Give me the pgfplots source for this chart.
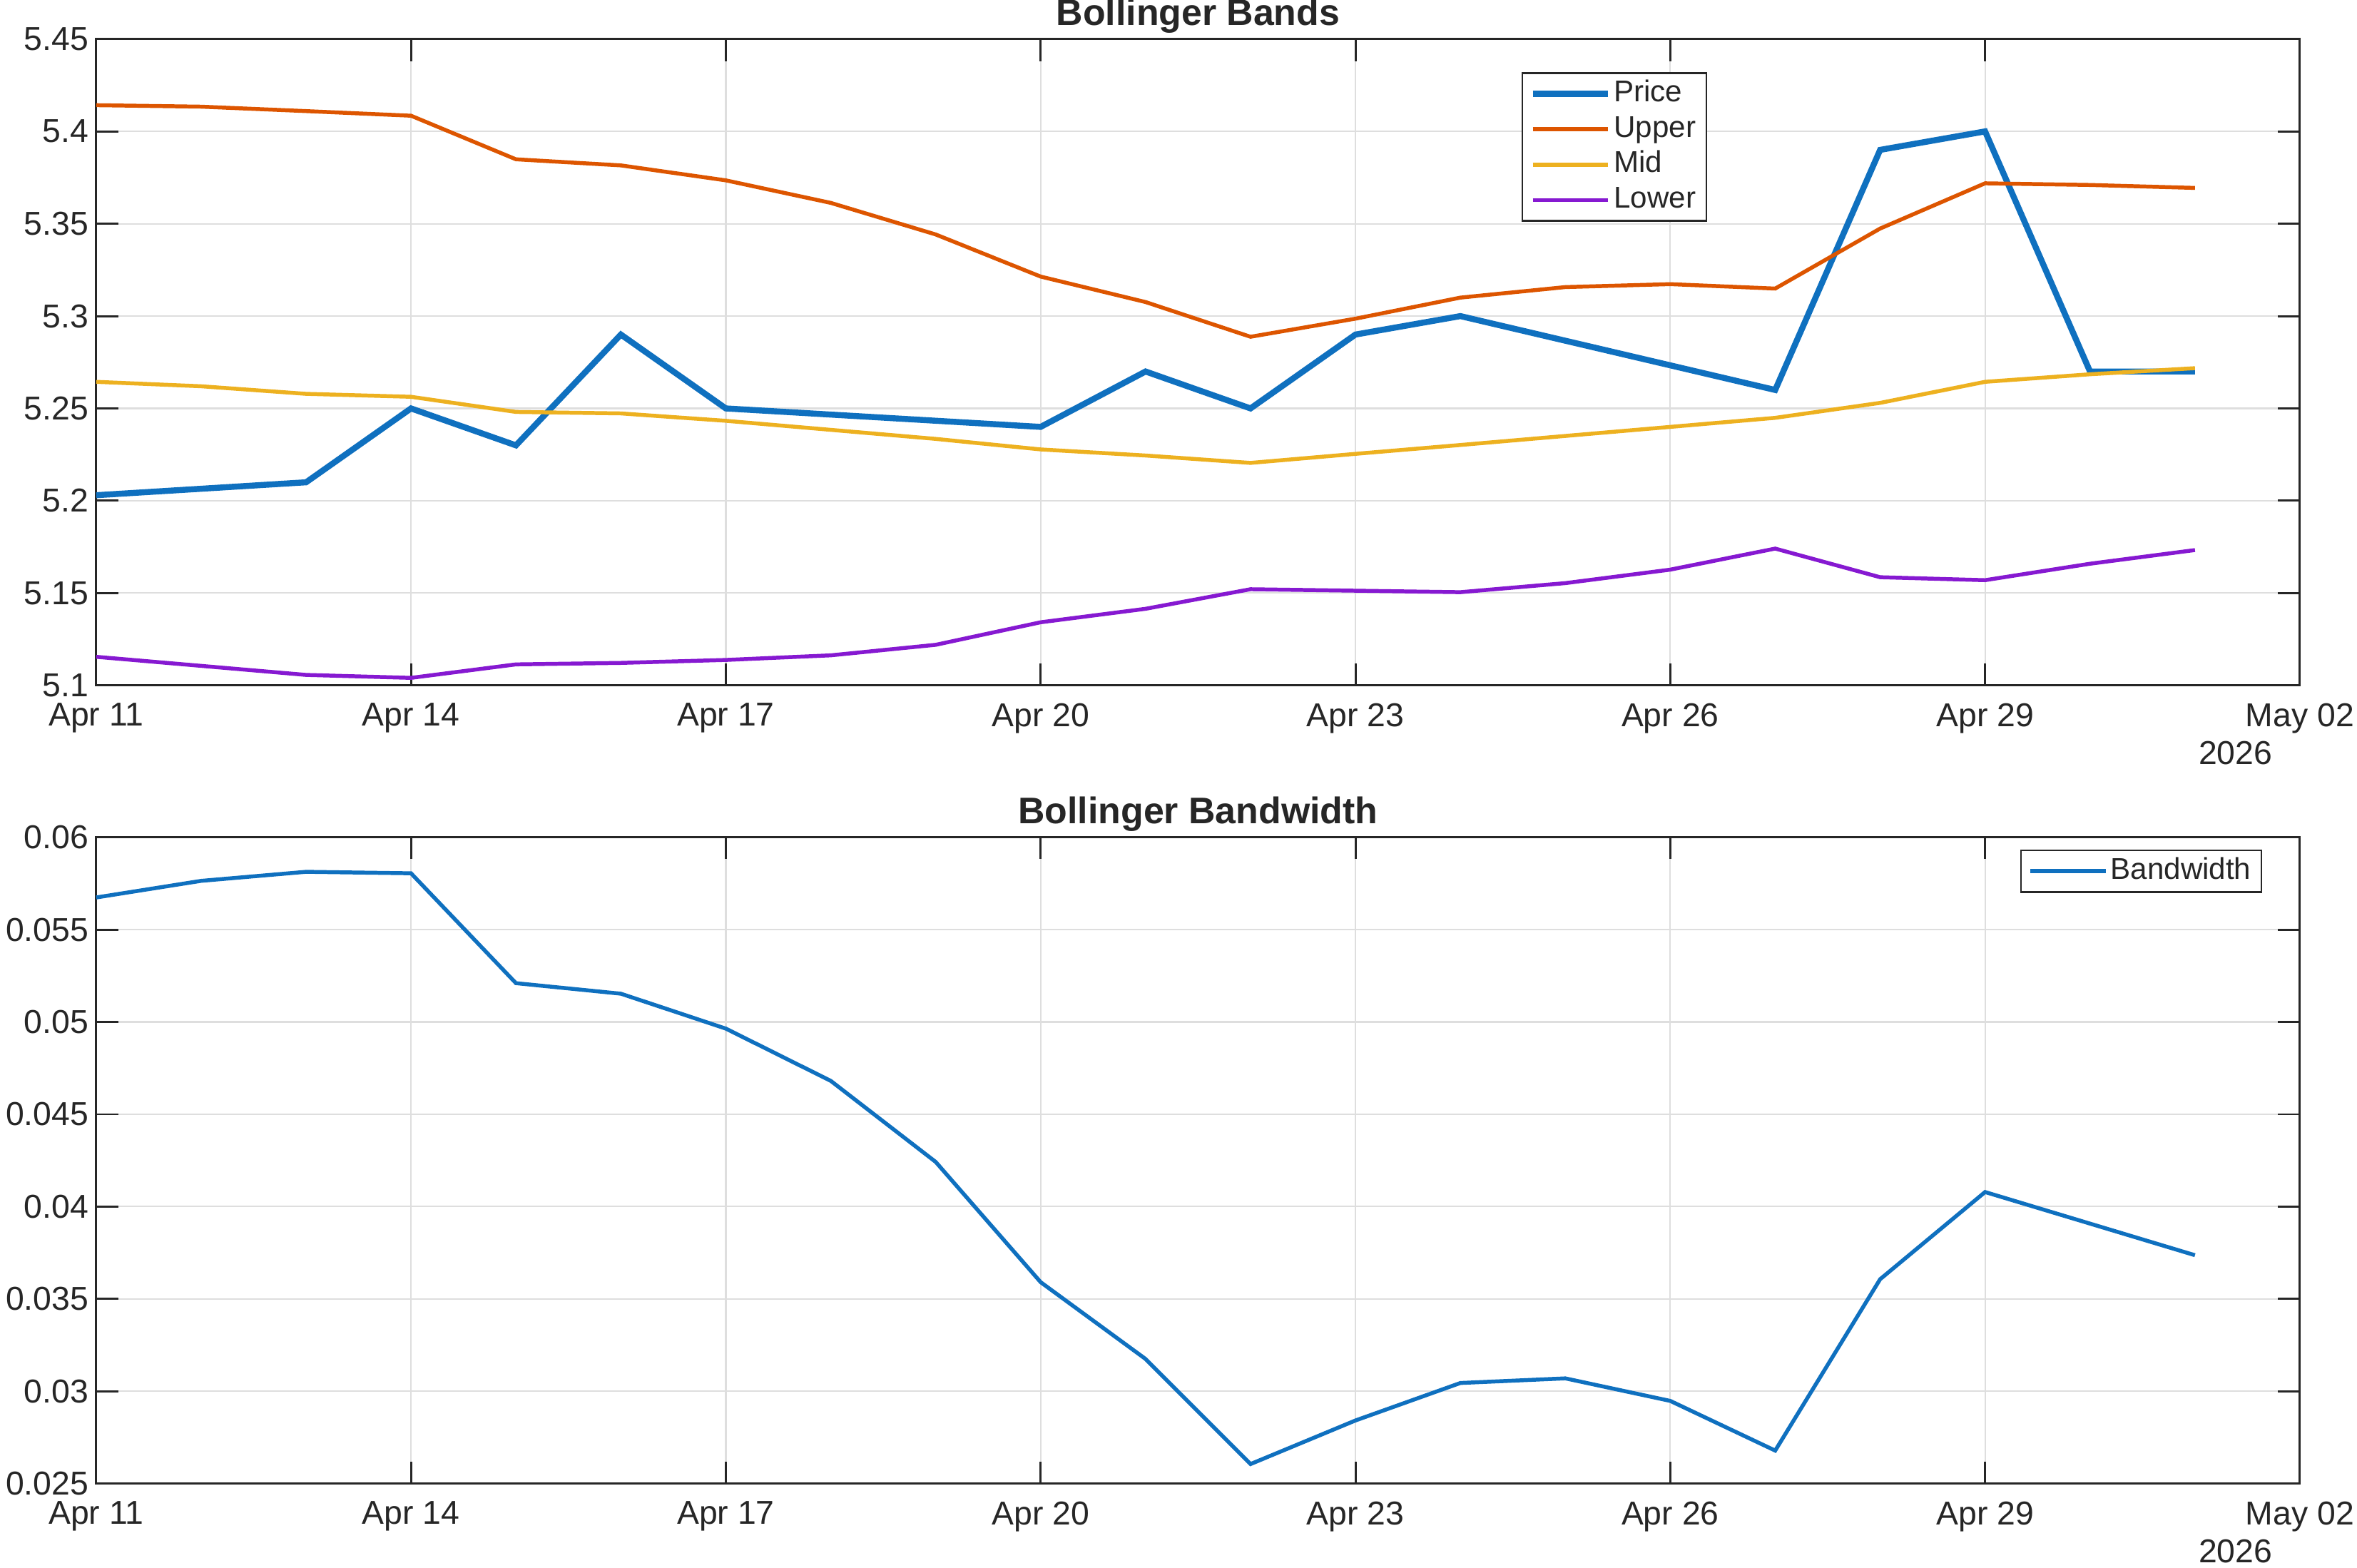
\documentclass[border=0pt]{standalone}
\usepackage{pgfplots}
\pgfplotsset{compat=1.18}
\usepackage{fontspec}
\setmainfont{Liberation Sans}
\definecolor{mblue}{HTML}{0F70BF}
\definecolor{morange}{HTML}{DD5500}
\definecolor{myellow}{HTML}{EDB120}
\definecolor{mpurple}{HTML}{8619D1}
\definecolor{axc}{HTML}{262626}
\definecolor{gridc}{HTML}{DEDEDE}
\begin{document}
\begin{tikzpicture}
\path[use as bounding box] (0pt,0pt) rectangle (784pt,521.5pt);
\pgfplotsset{
  common/.style={
    width=733pt, height=215pt, scale only axis, clip=false,
    xmin=0, xmax=21,
    xtick={0,3,6,9,12,15,18,21},
    xticklabels={Apr 11,Apr 14,Apr 17,Apr 20,Apr 23,Apr 26,Apr 29,May 02},
    tick pos=both, tick align=inside, major tick length=7.3pt,
    grid=major, major grid style={line width=0.5pt, color=gridc},
    axis line style={line width=0.7pt, color=axc},
    every tick/.style={line width=0.7pt, color=axc},
    tick label style={font=\fontsize{11}{13}\selectfont, color=axc},
    xticklabel style={yshift=-2.4pt},
    yticklabel style={xshift=1pt},
    /pgf/number format/assume math mode=true,
    title style={font=\bfseries\fontsize{12.3}{14}\selectfont, color=axc, at={(0.5,1)}, anchor=south, yshift=-4.2pt, inner sep=0pt},
    legend style={draw=axc, line width=0.6pt, fill=white, font=\fontsize{10}{12}\selectfont, text=axc,
      inner xsep=2.5pt, inner ysep=1pt,
      nodes={inner sep=1pt, text height=7.5pt, text depth=2.3pt},
      /tikz/every even column/.append style={column sep=0.5pt}},
    legend cell align=left,
    legend image code/.code={\draw[##1] (0pt,0pt) -- (25pt,0pt);},
  }
}
\begin{axis}[common, at={(32pt,293.5pt)}, anchor=south west,
  title={Bollinger Bands},
  ymin=5.1, ymax=5.45, ytick={5.1,5.15,5.2,5.25,5.3,5.35,5.4,5.45},
  legend style={at={(0.6467,0.949)}, anchor=north west}]
\addplot[mblue, line width=2pt, no markers] coordinates {
 (0,5.203) (2,5.210) (3,5.250) (4,5.230) (5,5.290) (6,5.250) (9,5.240)
 (10,5.270) (11,5.250) (12,5.290) (13,5.300) (16,5.260) (17,5.390)
 (18,5.400) (19,5.270) (20,5.270)};
\addlegendentry{Price}
\addplot[morange, line width=1.3pt, no markers] coordinates {
 (0,5.4142) (1,5.4134) (2,5.4110) (3,5.4085) (4,5.3849) (5,5.3816) (6,5.3735)
 (7,5.3613) (8,5.3442) (9,5.3214) (10,5.3076) (11,5.2888) (12,5.2986)
 (13,5.3100) (14,5.3157) (15,5.3173) (16,5.3149) (17,5.3474) (18,5.3719)
 (19,5.3710) (20,5.3694)};
\addlegendentry{Upper}
\addplot[myellow, line width=1.3pt, no markers] coordinates {
 (0,5.2644) (1,5.2620) (2,5.2579) (3,5.2563) (4,5.2481) (5,5.2473) (6,5.2433)
 (7,5.2384) (8,5.2335) (9,5.2278) (10,5.2245) (11,5.2205) (12,5.2254)
 (13,5.2302) (14,5.2351) (15,5.2400) (16,5.2449) (17,5.2530) (18,5.2644)
 (19,5.2685) (20,5.2718)};
\addlegendentry{Mid}
\addplot[mpurple, line width=1.3pt, no markers] coordinates {
 (0,5.1155) (1,5.1106) (2,5.1057) (3,5.1041) (4,5.1114) (5,5.1122) (6,5.1138)
 (7,5.1163) (8,5.1220) (9,5.1342) (10,5.1415) (11,5.1521) (12,5.1513)
 (13,5.1505) (14,5.1554) (15,5.1627) (16,5.1741) (17,5.1586) (18,5.1570)
 (19,5.1659) (20,5.1733)};
\addlegendentry{Lower}
\node[anchor=north east, inner sep=0pt, font=\fontsize{11}{13}\selectfont, text=axc]
  at (rel axis cs:1,0) [xshift=-9pt, yshift=-18.3pt] {2026};
\end{axis}
\begin{axis}[common, at={(32pt,28pt)}, anchor=south west,
  title={Bollinger Bandwidth},
  ymin=0.025, ymax=0.06, ytick={0.025,0.03,0.035,0.04,0.045,0.05,0.055,0.06},
  scaled y ticks=false,
  yticklabel style={/pgf/number format/.cd, fixed, precision=3},
  legend style={at={(0.983,0.981)}, anchor=north east}]
\addplot[mblue, line width=1.3pt, no markers] coordinates {
 (0,0.05674) (1,0.05764) (2,0.05813) (3,0.05805) (4,0.05210) (5,0.05153)
 (6,0.04964) (7,0.04681) (8,0.04242) (9,0.03591) (10,0.03175) (11,0.02606)
 (12,0.02842) (13,0.03045) (14,0.03070) (15,0.02948) (16,0.02679)
 (17,0.03607) (18,0.04079) (19,0.03908) (20,0.03737)};
\addlegendentry{Bandwidth}
\node[anchor=north east, inner sep=0pt, font=\fontsize{11}{13}\selectfont, text=axc]
  at (rel axis cs:1,0) [xshift=-9pt, yshift=-18.3pt] {2026};
\end{axis}
\end{tikzpicture}
\end{document}
